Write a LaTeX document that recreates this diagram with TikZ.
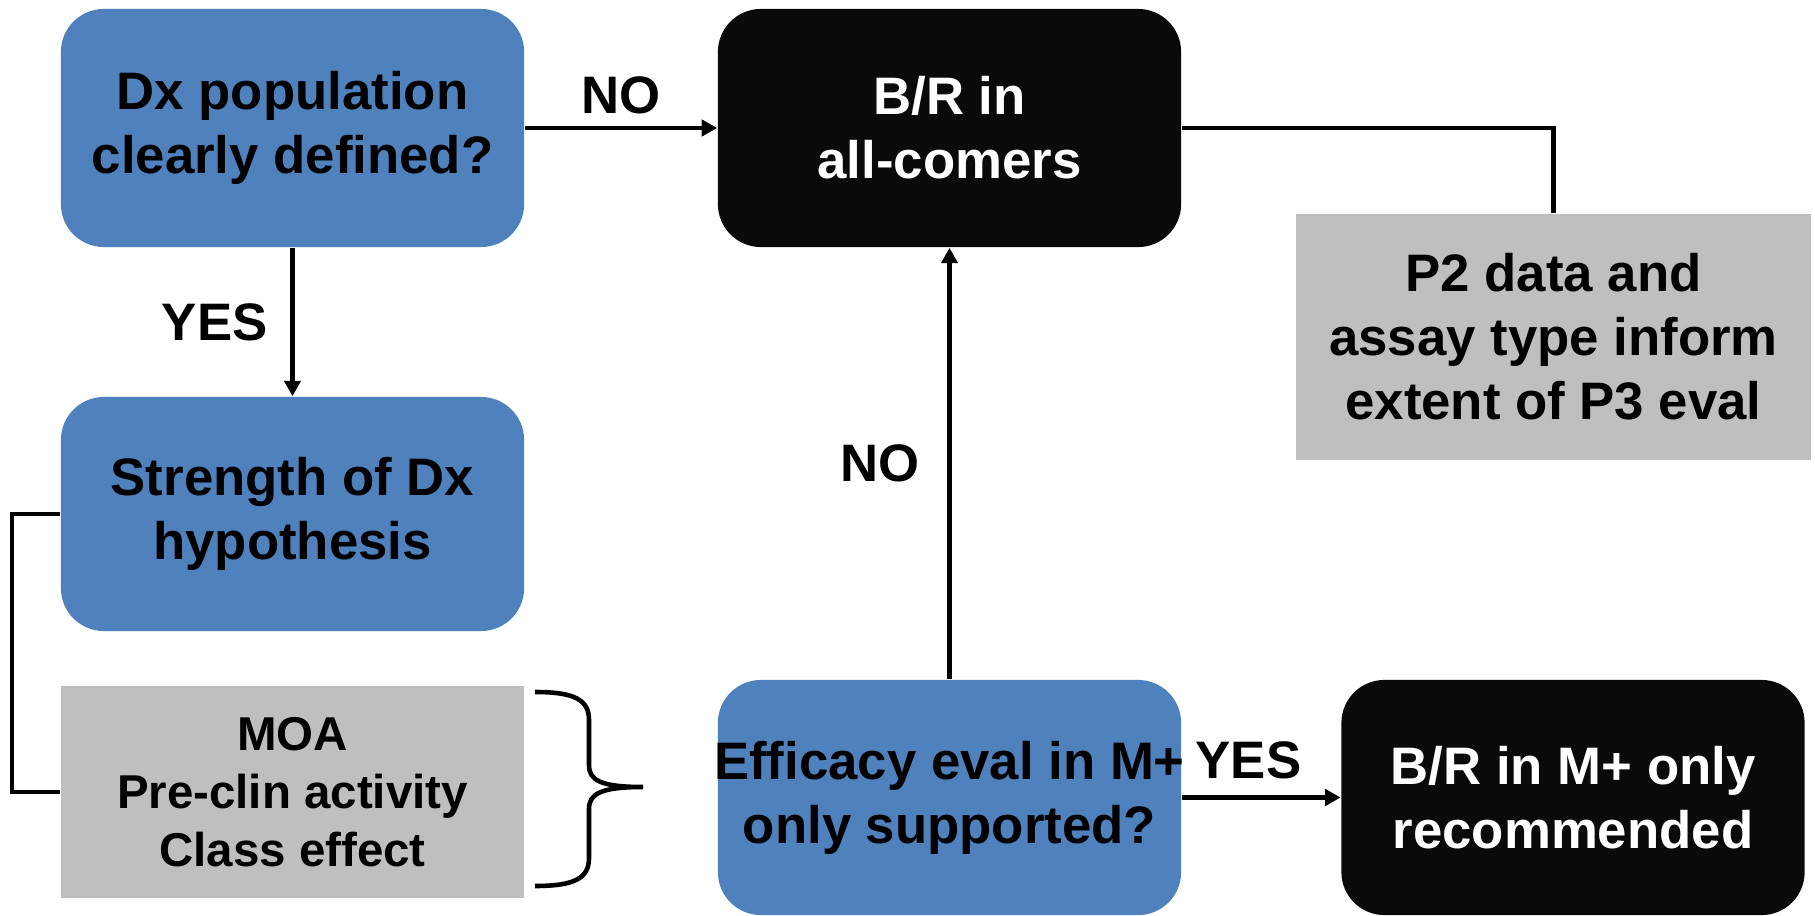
\documentclass[tikz,border=0pt]{standalone}
\usepackage{fontspec}
\setmainfont{Liberation Sans}
\usepackage{tikz}
\definecolor{colblue}{RGB}{79,129,189}
\definecolor{colblack}{RGB}{10,10,10}
\definecolor{colgrey}{RGB}{191,191,191}
\usetikzlibrary{arrows.meta}
\tikzset{
	>={Triangle[length=4.4pt, width=4.6pt]},
	flow/.style={->, line width=1.2pt},
	link/.style={line width=1.2pt},
	box/.style={align=center, inner sep=0pt, minimum width=4.63cm, font=\bfseries\fontsize{15}{18.2}\selectfont},
	question/.style={box, fill=colblue, rounded corners=0.43cm},
	verdict/.style={box, fill=colblack, text=white, rounded corners=0.43cm},
	remark/.style={box, fill=colgrey},
	answer/.style={inner sep=0pt, font=\bfseries\fontsize{15}{18.2}\selectfont}
}

\begin{document}
\begin{tikzpicture}[x=0.01cm, y=-0.01cm]
	\useasboundingbox (0,0) rectangle (1815,915);
	% left column
	\node[question, minimum height=2.38cm] (dxpop) at (292.5,128) {Dx population\\clearly defined?};
	\node[question, minimum height=2.34cm] (strength) at (292.5,514) {Strength of Dx\\hypothesis};
	\node[remark, minimum height=2.11cm, font=\bfseries\fontsize{13.5}{16.5}\selectfont] (moa) at (292.5,792) {MOA\\Pre-clin activity\\Class effect};
	% middle and right
	\node[verdict, minimum height=2.38cm] (allcomers) at (949.5,128) {B/R in\\all-comers};
	\node[question, minimum height=2.35cm] (efficacy) at (949.5,797.5) {\makebox[4.6cm]{Efficacy eval in M+}\\only supported?};
	\node[verdict, minimum height=2.35cm] (mplus) at (1573,797.5) {B/R in M+ only\\recommended};
	\node[remark, minimum width=5.15cm, minimum height=2.46cm] (pdata) at (1553.5,337) {P2 data and\\assay type inform\\extent of P3 eval};

	\draw[flow] (dxpop) -- node[answer, midway, above=3.4pt] (nofirst) {NO} (allcomers);
	\draw[flow] (dxpop) -- node[answer, midway, left=6.5pt] (yesfirst) {YES} (strength);
	\draw[flow] (efficacy) -- node[answer, midway, left=8pt] (nosecond) {NO} (allcomers);
	\draw[flow] (efficacy) -- node[answer, pos=0.42, above=4.8pt] (yessecond) {YES} (mplus);
	\draw[link] (allcomers.east) -| (pdata.north);

	\coordinate (elbow) at (12,514);
	\draw[link] (strength.west) -| (elbow) |- (moa.west);

	% brace
	\draw[line width=1.3pt] (535,692) .. controls (575,692) and (589,700) .. (589,720) -- (589,765)
		.. controls (589,780) and (600,787) .. (643,787)
		.. controls (600,787) and (589,794) .. (589,809) -- (589,858)
		.. controls (589,878) and (575,886) .. (535,886);
\end{tikzpicture}
\end{document}
